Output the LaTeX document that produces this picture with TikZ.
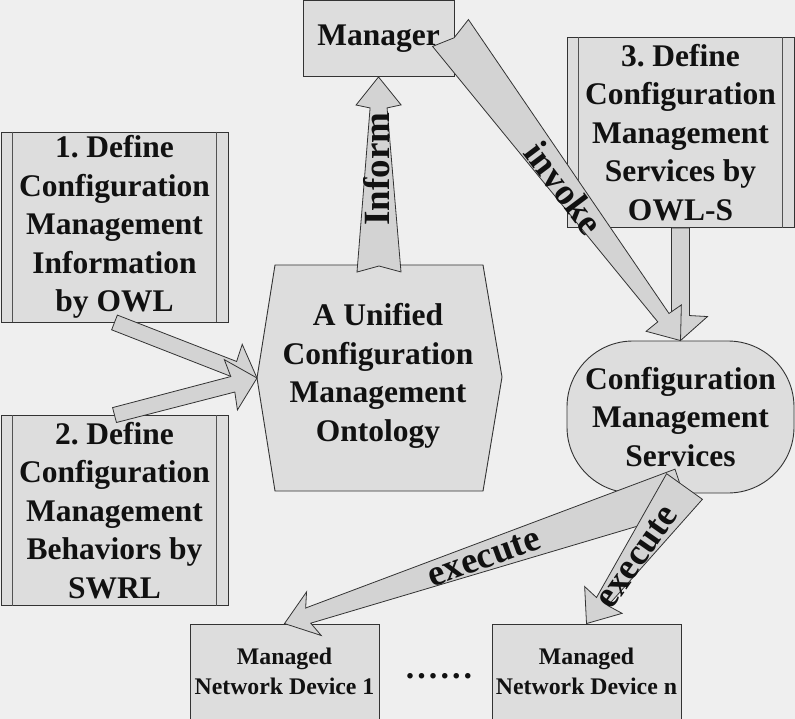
\documentclass[tikz,border=0pt]{standalone}
\usepackage{fontspec}
\setmainfont{Liberation Serif}
\usetikzlibrary{calc}
\frenchspacing
\definecolor{bg}{HTML}{EFEFEF}
\definecolor{boxfill}{HTML}{DDDDDD}
\definecolor{arrfill}{HTML}{D3D3D3}
\definecolor{edge}{HTML}{333333}
\definecolor{ink}{HTML}{111111}
% #1 tail, #2 tip, #3 tail half width, #4 neck half width, #5 head half width,
% #6 neck distance from tip, #7 wing distance from tip, #8 tail notch depth
\newcommand\blockarr[8]{%
  \path ($(#2)!#6!(#1)$) coordinate (ba-n)
        ($(#2)!#7!(#1)$) coordinate (ba-w)
        ($(#1)!#8!(#2)$) coordinate (ba-t);
  \draw[arrowfill] ($(#1)!#3!90:(#2)$) -- (ba-t) -- ($(#1)!#3!-90:(#2)$)
     -- ($(ba-n)!#4!90:(#1)$) -- ($(ba-w)!#5!90:(#1)$) -- (#2)
     -- ($(ba-w)!#5!-90:(#1)$) -- ($(ba-n)!#4!-90:(#1)$) -- cycle;
}
\tikzset{
  boxbase/.style={draw=edge, fill=boxfill, line width=0.9pt, inner sep=0pt,
    align=center, text=ink, font=\fontsize{31.5}{38.5}\selectfont\bfseries},
  procbox/.style={boxbase, minimum width=227pt, minimum height=190pt},
  devbox/.style={boxbase, minimum width=189pt, minimum height=95pt,
    font=\fontsize{23.8}{30}\selectfont\bfseries},
  hexshape/.style={draw=edge, fill=boxfill, line width=0.9pt},
  textonly/.style={inner sep=0pt, align=center, text=ink,
    font=\fontsize{31.5}{38.5}\selectfont\bfseries},
  arrowfill/.style={draw=edge, fill=arrfill, line width=0.8pt, line join=miter},
  lbl/.style={text=ink, font=\fontsize{37}{37}\selectfont\bfseries, inner sep=0pt},
  procbar/.style={draw=edge!85, line width=1.6pt},
}
\begin{document}
\begin{tikzpicture}[x=1pt,y=-1pt]
\fill[bg] (0,0) rectangle (795,719);
\useasboundingbox (0,0) rectangle (795,719);

% process boxes
\node[procbox] (box1) at (114.5,227) {1. Define\\Configuration\\Management\\Information\\by OWL};
\node[procbox] (box2) at (114.5,510.5) {2. Define\\Configuration\\Management\\Behaviors by\\SWRL};
\node[procbox] (box3) at (680.5,132.5) {3. Define\\Configuration\\Management\\Services by\\OWL-S};
\foreach \b in {box1,box2,box3}{
  \draw[procbar] ($(\b.north west)+(12,0)$) -- ($(\b.south west)+(12,0)$);
  \draw[procbar] ($(\b.north east)+(-12,0)$) -- ($(\b.south east)+(-12,0)$);
}
\node[boxbase, minimum width=151pt, minimum height=76pt] (mgr) at (378.5,38.5) {Manager};

% ontology hexagon
\coordinate (ontW) at (257,378);
\coordinate (ontN) at (379,265);
\draw[hexshape] (275,265) -- (483,265) -- (502,377) -- (483,491) -- (275,491) -- (ontW) -- cycle;
\node[textonly] (ont) at (378,376) {A Unified\\Configuration\\Management\\Ontology};

% services
\node[boxbase, rounded corners=66pt, minimum width=227pt, minimum height=152pt] (cms) at (680.5,417) {Configuration\\Management\\Services};

% devices
\node[devbox] (dev1) at (284.5,671.5) {Managed\\Network Device 1};
\node[devbox] (devn) at (586.5,671.5) {Managed\\Network Device n};
\node[inner sep=0pt, text=ink, font=\fontsize{34}{34}\selectfont\bfseries] (dots) at (439,676)
  {.\kern3.1pt.\kern3.1pt.\kern3.1pt.\kern3.1pt.\kern3.1pt.};

% arrows
\blockarr{box1.south}{ontW}{7.9pt}{8pt}{26pt}{25pt}{26pt}{0pt}
\blockarr{box2.north}{ontW}{7.7pt}{8pt}{26pt}{25pt}{27pt}{0pt}
\coordinate (infT) at ($(ontN)+(0,7)$);
\blockarr{infT}{mgr.south}{22pt}{8.5pt}{22.5pt}{31pt}{28pt}{6pt}
\blockarr{box3.south}{cms.north}{9pt}{9pt}{27pt}{25pt}{24pt}{0pt}
\coordinate (invT) at (450.5,33);
\blockarr{invT}{cms.north}{22.4pt}{7pt}{22pt}{28.6pt}{28pt}{6pt}
\coordinate (ex1T) at (682,490);
\blockarr{ex1T}{dev1.north}{22pt}{8pt}{23pt}{25pt}{31pt}{0pt}
\coordinate (ex2T) at (684.5,486.5);
\blockarr{ex2T}{devn.north}{22pt}{7pt}{23pt}{27pt}{29pt}{0pt}

% labels
\node[lbl, rotate=90] (linform) at (377,169) {Inform};
\node[lbl, rotate=-53] (linvoke) at (564,188) {invoke};
\node[lbl, rotate=20] (lexec1) at (484,558) {execute};
\node[lbl, rotate=55] (lexec2) at (637,557) {execute};
\end{tikzpicture}
\end{document}
